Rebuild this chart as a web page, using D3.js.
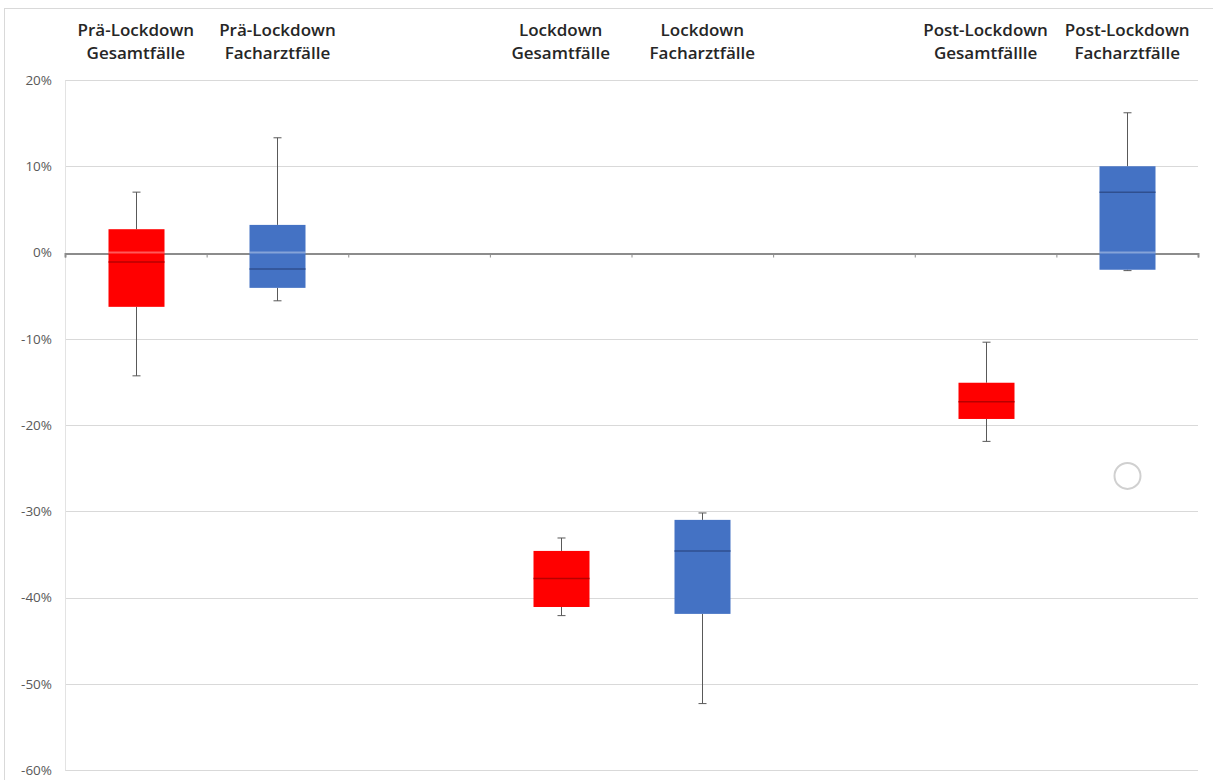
<!DOCTYPE html>
<html>
<head>
<meta charset="utf-8">
<script src="https://cdn.jsdelivr.net/npm/d3@7"></script>
<style>
  html, body { margin: 0; padding: 0; background: #fff; }
  svg { display: block; }
</style>
</head>
<body>
<svg id="chart" width="1213" height="780"></svg>
<script>
// Category slots (two-line headers); empty slots separate the three phases
const labelTop    = ["Prä-Lockdown", "Prä-Lockdown", "", "Lockdown", "Lockdown", "", "Post-Lockdown", "Post-Lockdown"];
const labelBottom = ["Gesamtfälle", "Facharztfälle", "", "Gesamtfälle", "Facharztfälle", "", "Gesamtfällle", "Facharztfälle"];
const seriesKind  = ["gesamt", "fach", null, "gesamt", "fach", null, "gesamt", "fach"];

// Box-plot statistics (fraction change)
const whiskerLow  = [-0.143, -0.056, null, -0.421, -0.523, null, -0.219, -0.021];
const quartile1   = [-0.063, -0.041, null, -0.411, -0.419, null, -0.193, -0.020];
const medianVal   = [-0.011, -0.019, null, -0.378, -0.346, null, -0.173,  0.070];
const quartile3   = [ 0.027,  0.032, null, -0.346, -0.310, null, -0.151,  0.100];
const whiskerHigh = [ 0.070,  0.133, null, -0.331, -0.302, null, -0.104,  0.162];
const outlierVals = [[], [], [], [], [], [], [], [-0.259]];

const yTicks = [0.2, 0.1, 0, -0.1, -0.2, -0.3, -0.4, -0.5, -0.6];

const svg = d3.select("#chart");
const plotLeft = 65, plotRight = 1198, plotTop = 80, plotBottom = 770;

const x = d3.scaleBand().domain(d3.range(labelTop.length)).range([plotLeft, plotRight]).paddingInner(0).paddingOuter(0);
const y = d3.scaleLinear().domain([-0.6, 0.2]).range([plotBottom, plotTop]);

const fill   = { gesamt: "#ff0000", fach: "#4472c4" };
const median = { gesamt: "#b80000", fach: "#2f4f8f" };

// chart area frame
svg.append("rect")
  .attr("x", 4.5).attr("y", 8.5).attr("width", 1220).attr("height", 800)
  .attr("fill", "none").attr("stroke", "#d9d9d9");

// horizontal gridlines
svg.append("g").selectAll("line").data(yTicks.filter(d => d !== 0)).join("line")
  .attr("x1", plotLeft).attr("x2", plotRight)
  .attr("y1", d => Math.round(y(d)) + 0.5).attr("y2", d => Math.round(y(d)) + 0.5)
  .attr("stroke", "#d9d9d9").attr("stroke-width", 1);

// value axis (labels only, plus a faint line)
const pct = d3.formatLocale({ decimal: ".", thousands: ",", grouping: [3], currency: ["", ""], minus: "-" }).format(".0%");
const yAxis = svg.append("g")
  .attr("transform", `translate(${plotLeft},0)`)
  .call(d3.axisLeft(y).tickValues(yTicks).tickSize(0).tickPadding(13).tickFormat(pct));
yAxis.select(".domain").attr("stroke", "#e3e3e3");
yAxis.selectAll("text")
  .attr("fill", "#595959")
  .style("font-family", "'Open Sans', 'Liberation Sans', sans-serif")
  .style("font-size", "13.5px");

// category axis along zero with ticks at slot edges
const edges = d3.range(labelTop.length + 1).map(i => plotLeft + i * x.step());
const xEdge = d3.scaleLinear().domain([plotLeft, plotRight]).range([plotLeft, plotRight]);
const xAxis = svg.append("g")
  .attr("transform", `translate(0,${Math.round(y(0)) + 0.5})`)
  .call(d3.axisBottom(xEdge).tickValues(edges).tickSize(4).tickFormat(""));
xAxis.select(".domain").attr("stroke", "#8c8c8c").attr("stroke-width", 2);
xAxis.selectAll(".tick line").attr("stroke", "#8c8c8c");

// header labels
const heads = svg.append("g")
  .style("font-family", "'Open Sans', 'Liberation Sans', sans-serif")
  .style("font-weight", "600")
  .style("font-size", "17px")
  .attr("fill", "#262626")
  .attr("text-anchor", "middle");
labelTop.forEach((t, i) => {
  if (!t) return;
  const cx = x(i) + x.bandwidth() / 2;
  heads.append("text").attr("x", cx).attr("y", 36).text(t);
  heads.append("text").attr("x", cx).attr("y", 59).text(labelBottom[i]);
});

// boxes
const boxW = 56, capW = 8;
const slots = d3.range(labelTop.length).filter(i => seriesKind[i]);
const g = svg.append("g");
slots.forEach(i => {
  const cx = Math.round(x(i) + x.bandwidth() / 2) + 0.5;
  const k = seriesKind[i];
  // whiskers
  g.append("line").attr("x1", cx).attr("x2", cx)
    .attr("y1", y(whiskerHigh[i])).attr("y2", y(quartile3[i]))
    .attr("stroke", "#595959").attr("stroke-width", 1);
  g.append("line").attr("x1", cx).attr("x2", cx)
    .attr("y1", y(quartile1[i])).attr("y2", y(whiskerLow[i]))
    .attr("stroke", "#595959").attr("stroke-width", 1);
  [whiskerHigh[i], whiskerLow[i]].forEach(v => {
    g.append("line").attr("x1", cx - capW / 2).attr("x2", cx + capW / 2)
      .attr("y1", y(v)).attr("y2", y(v))
      .attr("stroke", "#595959").attr("stroke-width", 1);
  });
  // box
  g.append("rect")
    .attr("x", cx - boxW / 2).attr("width", boxW)
    .attr("y", y(quartile3[i])).attr("height", y(quartile1[i]) - y(quartile3[i]))
    .attr("fill", fill[k]);
  // zero axis shows faintly through the box
  if (quartile1[i] < 0 && quartile3[i] > 0) {
    g.append("line").attr("x1", cx - boxW / 2).attr("x2", cx + boxW / 2)
      .attr("y1", y(0)).attr("y2", y(0))
      .attr("stroke", "#ffffff").attr("stroke-opacity", 0.35).attr("stroke-width", 2);
  }
  // median
  g.append("line").attr("x1", cx - boxW / 2).attr("x2", cx + boxW / 2)
    .attr("y1", y(medianVal[i])).attr("y2", y(medianVal[i]))
    .attr("stroke", median[k]).attr("stroke-width", 1.5);
  // outliers
  outlierVals[i].forEach(v => {
    g.append("circle").attr("cx", cx).attr("cy", y(v)).attr("r", 13)
      .attr("fill", "none").attr("stroke", "#d0d0d0").attr("stroke-width", 2);
  });
});
</script>
</body>
</html>
